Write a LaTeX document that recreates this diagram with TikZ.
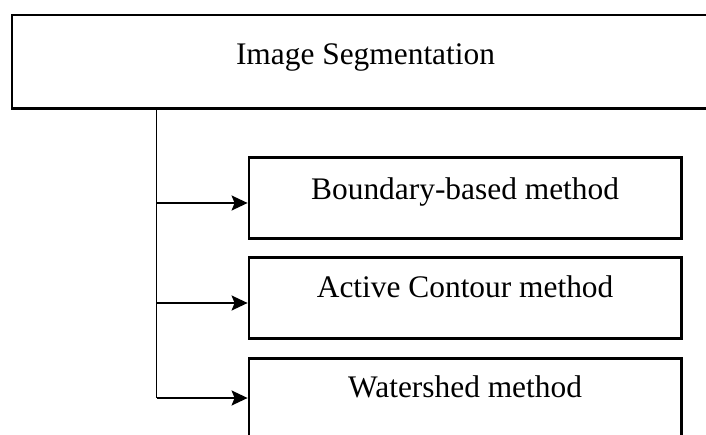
\documentclass[tikz,border=0pt]{standalone}
\usepackage{fontspec}
\setmainfont{Liberation Serif}
\usetikzlibrary{arrows.meta}
\begin{document}
\begin{tikzpicture}[x=1pt,y=-1pt,
  boxnode/.style={draw=black, line width=2.2pt, inner sep=0pt, fill=white,
    font=\fontsize{31.4}{36}\selectfont, align=center},
  sub/.style={boxnode, minimum width=432.8pt, minimum height=81pt},
  conn/.style={draw=black, line width=1.8pt},
  arr/.style={conn, -{Stealth[length=16pt,width=15pt,inset=3pt]}}]
\clip (0,0) rectangle (706,435);
\fill[white] (0,0) rectangle (706,435);
% top box
\node[boxnode, line width=2.6pt, minimum width=707pt, minimum height=93.5pt,
  text height=12pt, text depth=7pt] (top) at (365.5,61.75) {Image Segmentation};
% sub boxes
\node[sub, text height=11pt, text depth=8.6pt] (b1) at (465.1,198.1) {Boundary-based method};
\node[sub, text height=9.5pt, text depth=10.5pt] (b2) at (465.1,298) {Active Contour method};
\node[sub, text height=9pt, text depth=12pt] (b3) at (465.1,399) {Watershed method};
% junctions
\coordinate (j1) at (156.5,203);
\coordinate (j2) at (156.5,303);
\coordinate (j3) at (156.5,398);
\draw[conn] (top.south -| j1) -- (j3);
\draw[arr] (j1) -- (b1.west |- j1);
\draw[arr] (j2) -- (b2.west |- j2);
\draw[arr] (j3) -- (b3.west |- j3);
\end{tikzpicture}
\end{document}
